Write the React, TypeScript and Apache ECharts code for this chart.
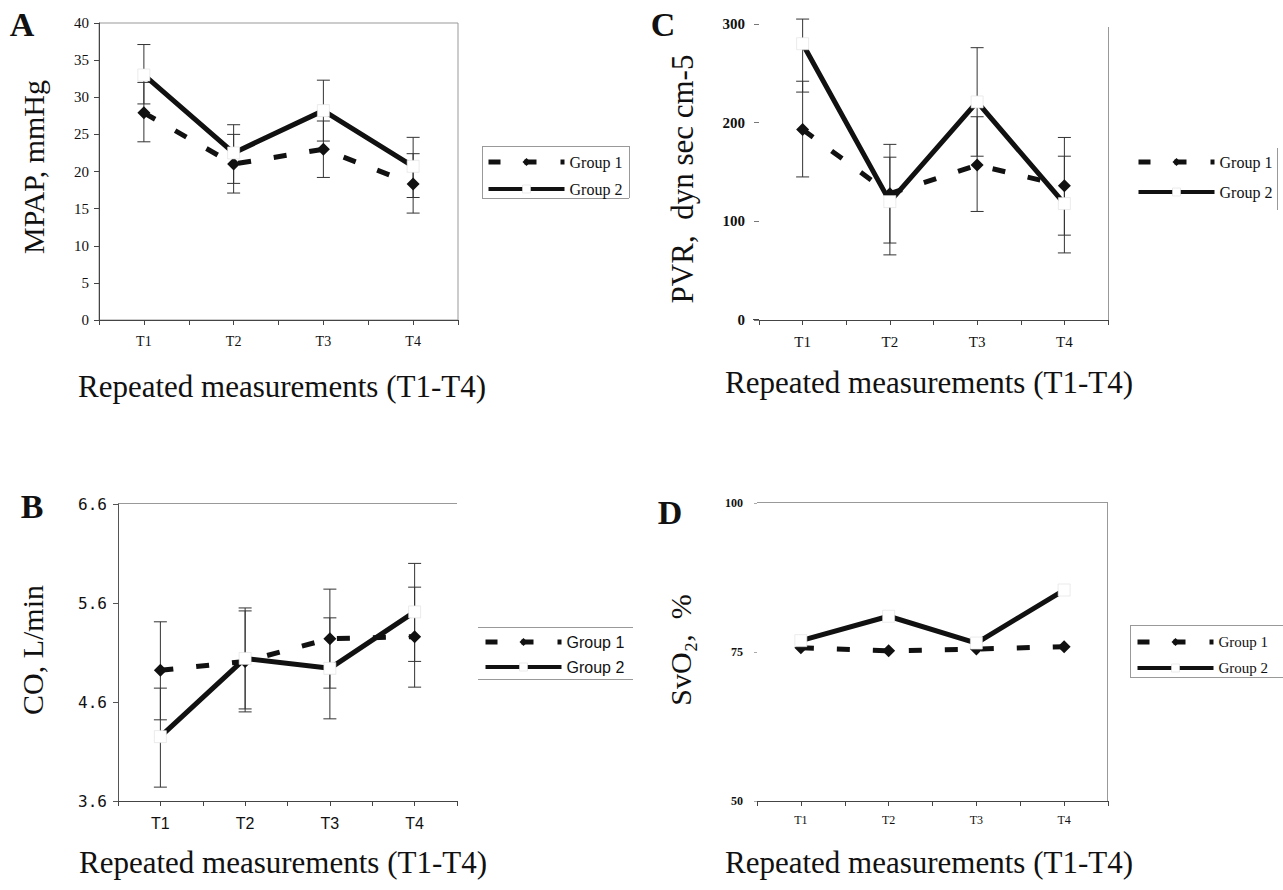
import React, { useEffect, useRef } from "react";
import * as echarts from "echarts";

// ---------- data ----------
const categories = ["T1", "T2", "T3", "T4"];

// Panel A: MPAP, mmHg
const mpapGroup1 = [27.9, 21.0, 23.0, 18.3];
const mpapGroup2 = [33.0, 22.5, 28.2, 20.7];
const mpapGroup1Low = [24.0, 17.1, 19.2, 14.4];
const mpapGroup1High = [32.0, 25.0, 26.8, 22.4];
const mpapGroup2Low = [29.1, 18.4, 24.1, 16.5];
const mpapGroup2High = [37.1, 26.3, 32.3, 24.6];

// Panel C: PVR, dyn sec cm-5
const pvrGroup1 = [193, 128, 157, 136];
const pvrGroup2 = [280, 120, 221, 118];
const pvrGroup1Low = [145, 78, 110, 86];
const pvrGroup1High = [242, 178, 206, 185];
const pvrGroup2Low = [231, 66, 166, 68];
const pvrGroup2High = [305, 165, 276, 166];

// Panel B: CO, L/min
const coGroup1 = [4.92, 5.01, 5.24, 5.26];
const coGroup2 = [4.25, 5.04, 4.94, 5.51];
const coGroup1Low = [4.42, 4.5, 4.74, 4.75];
const coGroup1High = [5.41, 5.52, 5.74, 5.76];
const coGroup2Low = [3.74, 4.53, 4.43, 5.01];
const coGroup2High = [4.74, 5.55, 5.45, 6.0];

// Panel D: SvO2, %
const svo2Group1 = [75.7, 75.2, 75.5, 75.9];
const svo2Group2 = [76.9, 81.0, 76.5, 85.4];

const seriesNames = ["Group 1", "Group 2"];
const xTitle = "Repeated measurements (T1-T4)";

// ---------- styling helpers ----------
const SERIF = "Liberation Serif";
const SANS = "Liberation Sans";
const MONO = "DejaVu Sans Mono";
const INK = "#111";
const DASH = [13, 23];

function lineSeries(name: string, values: number[], idx: number, dashed: boolean) {
  return {
    type: "line",
    name,
    xAxisIndex: idx,
    yAxisIndex: idx,
    data: values.map((v, i) => [i + 1, v]),
    symbol: dashed ? "diamond" : "rect",
    symbolSize: dashed ? 13 : 12,
    showSymbol: true,
    lineStyle: { color: INK, width: 5, type: dashed ? DASH : "solid", cap: "butt" },
    itemStyle: dashed
      ? { color: INK, borderWidth: 0 }
      : { color: "#fff", borderColor: "#ddd", borderWidth: 0.6 },
    z: dashed ? 3 : 4,
    silent: true,
  };
}

function errorSeries(idx: number, lows: number[][], highs: number[][]) {
  const data: number[][] = [];
  lows.forEach((lo, g) => {
    lo.forEach((v, i) => data.push([i + 1, v, highs[g][i]]));
  });
  return {
    type: "custom",
    name: "err" + idx,
    xAxisIndex: idx,
    yAxisIndex: idx,
    z: 1,
    silent: true,
    encode: { x: 0, y: [1, 2] },
    data,
    renderItem: (_p: any, api: any) => {
      const x = api.value(0);
      const lo = api.coord([x, api.value(1)]);
      const hi = api.coord([x, api.value(2)]);
      const w = 6.5;
      const st = { stroke: "#333", lineWidth: 1 };
      return {
        type: "group",
        children: [
          { type: "line", shape: { x1: lo[0], y1: lo[1], x2: hi[0], y2: hi[1] }, style: st },
          { type: "line", shape: { x1: lo[0] - w, y1: lo[1], x2: lo[0] + w, y2: lo[1] }, style: st },
          { type: "line", shape: { x1: hi[0] - w, y1: hi[1], x2: hi[0] + w, y2: hi[1] }, style: st },
        ],
      };
    },
  };
}

function xAxis(idx: number, font: string, size: number, margin: number, color: string) {
  return {
    type: "value",
    gridIndex: idx,
    min: 0.5,
    max: 4.5,
    interval: 0.5,
    splitLine: { show: false },
    axisLine: { show: true, lineStyle: { color, width: 1 } },
    axisTick: { show: true, length: 5, lineStyle: { color, width: 1 } },
    axisLabel: {
      margin,
      fontFamily: font,
      fontSize: size,
      color: INK,
      formatter: (v: number) => {
        const r = Math.round(v);
        return Math.abs(v - r) < 1e-6 && r >= 1 && r <= categories.length ? categories[r - 1] : "";
      },
    },
  };
}

function text(str: string, x: number, y: number, size: number, opts: any = {}) {
  return {
    type: "text",
    x,
    y,
    rotation: opts.rotation || 0,
    silent: true,
    style: {
      text: str,
      fontFamily: opts.font || SERIF,
      fontSize: size,
      fontWeight: opts.weight || "normal",
      fill: INK,
      align: opts.align || "center",
      verticalAlign: "middle",
      textAlign: opts.align || "center",
      textVerticalAlign: "middle",
    },
  };
}

function hline(x1: number, x2: number, y: number, color = "#999") {
  return { type: "line", silent: true, shape: { x1, y1: y + 0.5, x2, y2: y + 0.5 }, style: { stroke: color, lineWidth: 1 } };
}
function vline(x: number, y1: number, y2: number, color = "#999") {
  return { type: "line", silent: true, shape: { x1: x + 0.5, y1, x2: x + 0.5, y2 }, style: { stroke: color, lineWidth: 1 } };
}

function legend(left: number, top: number, gap: number, font: string, size: number) {
  return {
    data: [
      {
        name: seriesNames[0],
        itemStyle: { color: INK, borderWidth: 0 },
        lineStyle: { color: INK, width: 5, type: [12, 24], cap: "butt" },
      },
      {
        name: seriesNames[1],
        itemStyle: { color: "#fff", borderColor: "#ddd", borderWidth: 0.6 },
        lineStyle: { color: INK, width: 4, type: "solid", cap: "butt" },
      },
    ],
    orient: "vertical",
    left,
    top,
    itemWidth: 76,
    itemHeight: 10,
    itemGap: gap,
    selectedMode: false,
    padding: 0,
    textStyle: { fontFamily: font, fontSize: size, color: INK, lineHeight: 18 },
  };
}

const option: any = {
  animation: false,
  backgroundColor: "#fff",
  grid: [
    { left: 99, top: 23, width: 359, height: 297, show: true, borderColor: "#999", borderWidth: 1, backgroundColor: "transparent", outerBoundsMode: "none" },
    { left: 759, top: 24, width: 349, height: 296, outerBoundsMode: "none" },
    { left: 118, top: 504, width: 339, height: 297, outerBoundsMode: "none" },
    { left: 757, top: 503, width: 351, height: 298, outerBoundsMode: "none" },
  ],
  xAxis: [
    xAxis(0, SERIF, 14, 14, "#444"),
    xAxis(1, SERIF, 15, 14, "#444"),
    xAxis(2, SANS, 16, 14, "#444"),
    xAxis(3, SERIF, 12, 13, "#444"),
  ],
  yAxis: [
    {
      type: "value", gridIndex: 0, min: 0, max: 40, interval: 5,
      splitLine: { show: false },
      axisLine: { show: true, lineStyle: { color: "#444" } },
      axisTick: { show: true, length: 5, lineStyle: { color: "#444" } },
      axisLabel: { margin: 10, fontFamily: SERIF, fontSize: 15, color: INK },
    },
    {
      type: "value", gridIndex: 1, min: 0, max: 300, interval: 100,
      splitLine: { show: false },
      axisLine: { show: false },
      axisTick: { show: true, length: 5, lineStyle: { color: "#777" } },
      axisLabel: { margin: 14, fontFamily: SERIF, fontSize: 15, fontWeight: "bold", color: INK },
    },
    {
      type: "value", gridIndex: 2, min: 3.6, max: 6.6, interval: 1,
      splitLine: { show: false },
      axisLine: { show: true, lineStyle: { color: "#555" } },
      axisTick: { show: true, length: 5, lineStyle: { color: "#555" } },
      axisLabel: { margin: 11, fontFamily: MONO, fontSize: 16, color: INK, formatter: (v: number) => v.toFixed(1) },
    },
    {
      type: "value", gridIndex: 3, min: 50, max: 100, interval: 25,
      splitLine: { show: false },
      axisLine: { show: false },
      axisTick: { show: true, length: 3, lineStyle: { color: "#aaa" } },
      axisLabel: { margin: 14, fontFamily: SERIF, fontSize: 12, fontWeight: "bold", color: INK },
    },
  ],
  legend: [
    legend(486, 153, 9, SERIF, 16),
    legend(1136, 153, 12, SERIF, 16),
    legend(483, 633, 7, SANS, 16),
    legend(1135, 633, 8, SERIF, 15),
  ],
  series: [
    errorSeries(0, [mpapGroup1Low, mpapGroup2Low], [mpapGroup1High, mpapGroup2High]),
    lineSeries(seriesNames[0], mpapGroup1, 0, true),
    lineSeries(seriesNames[1], mpapGroup2, 0, false),
    errorSeries(1, [pvrGroup1Low, pvrGroup2Low], [pvrGroup1High, pvrGroup2High]),
    lineSeries(seriesNames[0], pvrGroup1, 1, true),
    lineSeries(seriesNames[1], pvrGroup2, 1, false),
    errorSeries(2, [coGroup1Low, coGroup2Low], [coGroup1High, coGroup2High]),
    lineSeries(seriesNames[0], coGroup1, 2, true),
    lineSeries(seriesNames[1], coGroup2, 2, false),
    lineSeries(seriesNames[0], svo2Group1, 3, true),
    lineSeries(seriesNames[1], svo2Group2, 3, false),
  ],
  graphic: [
    // panel letters
    text("A", 22, 24, 34, { weight: "bold" }),
    text("C", 663, 24, 34, { weight: "bold" }),
    text("B", 32, 506, 34, { weight: "bold" }),
    text("D", 670, 512, 34, { weight: "bold" }),
    // y titles
    text("MPAP, mmHg", 33, 167, 30, { rotation: Math.PI / 2 }),
    text("PVR,  dyn sec cm-5", 682, 179, 31, { rotation: Math.PI / 2 }),
    text("CO, L/min", 32, 650, 30, { rotation: Math.PI / 2 }),
    text("SvO\u2082,  %", 680, 650, 30, { rotation: Math.PI / 2 }),
    // x titles
    text(xTitle, 282, 386, 31),
    text(xTitle, 929, 382, 31),
    text(xTitle, 283, 862, 31),
    text(xTitle, 929, 862, 31),
    // legend frames
    hline(482, 629, 146), hline(482, 629, 198), vline(482, 146, 198), vline(629, 146, 198),
    vline(1277, 148, 210),
    hline(478, 633, 627), hline(478, 633, 679),
    hline(1130, 1283, 625), hline(1130, 1283, 677), vline(1130, 625, 677),
    // partial frames
    vline(1108, 27, 320),
    hline(118, 457, 503),
    hline(757, 1108, 502), vline(1107, 502, 801),
    hline(753, 759, 319, "#444"),
  ],
};

export default function App() {
  const ref = useRef<HTMLDivElement>(null);
  useEffect(() => {
    if (!ref.current) return;
    const chart = echarts.init(ref.current, null, { renderer: "svg" });
    chart.setOption(option);
    return () => chart.dispose();
  }, []);
  return (
    <div
      ref={ref}
      style={{ position: "fixed", left: 0, top: 0, width: 1283, height: 890, background: "#fff" }}
    />
  );
}
